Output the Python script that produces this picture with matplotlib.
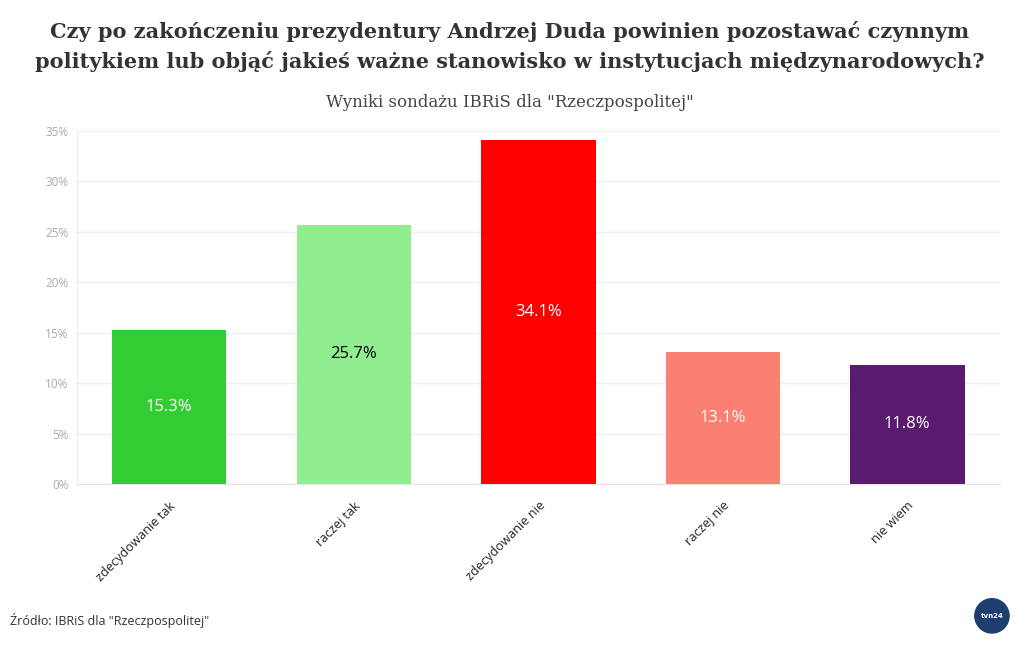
import matplotlib.pyplot as plt
from matplotlib.patches import Circle

categories = ["zdecydowanie tak", "raczej tak", "zdecydowanie nie", "raczej nie", "nie wiem"]
values = [15.3, 25.7, 34.1, 13.1, 11.8]
colors = ["#32cd32", "#90ee90", "#ff0000", "#fa8072", "#5a1a6e"]
label_colors = ["white", "black", "white", "white", "white"]
yticks = [0, 5, 10, 15, 20, 25, 30, 35]

fig = plt.figure(figsize=(10.2, 6.5), dpi=100)
ax = fig.add_axes([0.0755, 0.2554, 0.9045, 0.5431])

x = range(len(categories))
bars = ax.bar(x, values, width=0.62, color=colors, zorder=3)
for b, v, c in zip(bars, values, label_colors):
    ax.text(b.get_x() + b.get_width() / 2, v / 2, f"{v}%", ha="center", va="center",
            color=c, fontsize=12, family="Open Sans", zorder=4)

ax.set_xlim(-0.5, 4.5)
ax.set_ylim(0, 35)
ax.set_yticks(yticks)
ax.set_yticklabels([f"{t}%" for t in yticks], color="#aaaaaa", fontsize=8.5, family="Open Sans")
ax.set_xticks(list(x))
ax.set_xticklabels(categories, rotation=45, ha="right", rotation_mode="anchor",
                   fontsize=9.2, family="Open Sans", color="#222222")
ax.tick_params(axis="both", length=0, pad=6)
ax.tick_params(axis="x", pad=11)
ax.grid(axis="y", color="#eeeeee", linewidth=1, zorder=0)
for s in ["top", "right"]:
    ax.spines[s].set_visible(False)
ax.spines["left"].set_color("#eeeeee")
ax.spines["bottom"].set_color("#e4e4e4")

fig.text(0.5, 0.952, "Czy po zakończeniu prezydentury Andrzej Duda powinien pozostawać czynnym",
         ha="center", va="center", fontsize=15, fontweight="bold", family="DejaVu Serif", color="#333333")
fig.text(0.5, 0.905, "politykiem lub objąć jakieś ważne stanowisko w instytucjach międzynarodowych?",
         ha="center", va="center", fontsize=15, fontweight="bold", family="DejaVu Serif", color="#333333")
fig.text(0.5, 0.842, 'Wyniki sondażu IBRiS dla "Rzeczpospolitej"', ha="center", va="center",
         fontsize=12, family="DejaVu Serif", color="#444444")
fig.text(0.01, 0.045, 'Źródło: IBRiS dla "Rzeczpospolitej"', ha="left", va="center",
         fontsize=9, family="Open Sans", color="#333333")

# tvn24 logo placeholder
logo = fig.add_axes([0.955, 0.025, 0.035, 0.055])
logo.set_aspect("equal")
logo.add_patch(Circle((0.5, 0.5), 0.48, color="#1d3e6e"))
logo.text(0.5, 0.5, "tvn24", ha="center", va="center", color="white", fontsize=5, fontweight="bold")
logo.set_xlim(0, 1)
logo.set_ylim(0, 1)
logo.axis("off")

fig.savefig("out.png", dpi=100)
